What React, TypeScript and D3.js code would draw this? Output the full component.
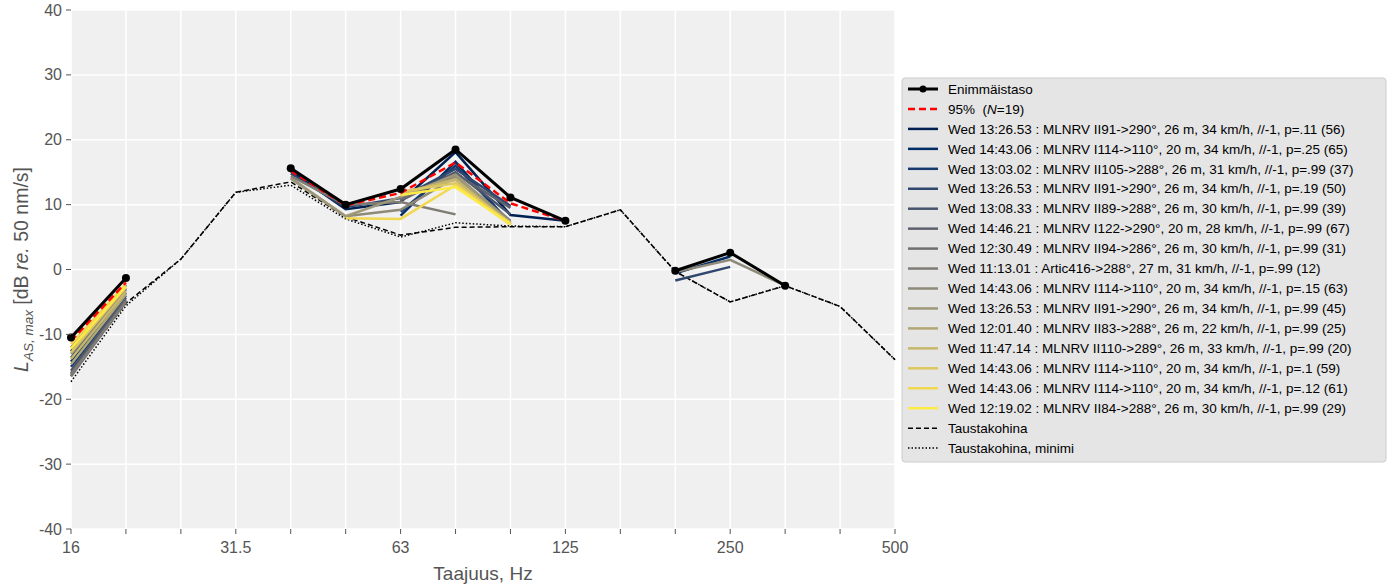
import React from "react";
import * as d3 from "d3";

// Third-octave band centre frequencies (Hz)
const bands = ["16", "20", "25", "31.5", "40", "50", "63", "80", "100", "125", "160", "200", "250", "315", "400", "500"];
const labelledBands = ["16", "31.5", "63", "125", "250", "500"];
const yTicks = [-40, -30, -20, -10, 0, 10, 20, 30, 40];

type V = number | null;
const _ = null;

// Maximum level envelope
const maxLevel: V[] = [-10.5, -1.3, _, _, 15.6, 10.0, 12.4, 18.5, 11.1, 7.5, _, -0.2, 2.6, -2.5, _, _];
// 95 % level
const p95Level: V[] = [-11.0, -2.0, _, _, 15.2, 9.9, 11.8, 16.5, 10.2, 7.5, _, _, _, _, _, _];
// Background noise
const background: V[] = [-16.3, -5.2, 1.6, 11.9, 13.5, 8.1, 5.3, 6.5, 6.6, 6.6, 9.2, -0.3, -5.0, -2.5, -5.7, -13.9];
const backgroundMin: V[] = [-17.3, -5.6, 1.6, 11.9, 13.0, 7.8, 5.0, 7.2, 6.7, 6.6, 9.2, -0.3, -5.0, -2.5, -5.7, -13.9];

// Individual passages
const passLabels = [
  "Wed 13:26.53 : MLNRV II91->290°, 26 m, 34 km/h, //-1, p=.11 (56)",
  "Wed 14:43.06 : MLNRV I114->110°, 20 m, 34 km/h, //-1, p=.25 (65)",
  "Wed 13:03.02 : MLNRV II105->288°, 26 m, 31 km/h, //-1, p=.99 (37)",
  "Wed 13:26.53 : MLNRV II91->290°, 26 m, 34 km/h, //-1, p=.19 (50)",
  "Wed 13:08.33 : MLNRV II89->288°, 26 m, 30 km/h, //-1, p=.99 (39)",
  "Wed 14:46.21 : MLNRV I122->290°, 20 m, 28 km/h, //-1, p=.99 (67)",
  "Wed 12:30.49 : MLNRV II94->286°, 26 m, 30 km/h, //-1, p=.99 (31)",
  "Wed 11:13.01 : Artic416->288°, 27 m, 31 km/h, //-1, p=.99 (12)",
  "Wed 14:43.06 : MLNRV I114->110°, 20 m, 34 km/h, //-1, p=.15 (63)",
  "Wed 13:26.53 : MLNRV II91->290°, 26 m, 34 km/h, //-1, p=.99 (45)",
  "Wed 12:01.40 : MLNRV II83->288°, 26 m, 22 km/h, //-1, p=.99 (25)",
  "Wed 11:47.14 : MLNRV II110->289°, 26 m, 33 km/h, //-1, p=.99 (20)",
  "Wed 14:43.06 : MLNRV I114->110°, 20 m, 34 km/h, //-1, p=.1 (59)",
  "Wed 14:43.06 : MLNRV I114->110°, 20 m, 34 km/h, //-1, p=.12 (61)",
  "Wed 12:19.02 : MLNRV II84->288°, 26 m, 30 km/h, //-1, p=.99 (29)",
];
const pass0: V[] = [-12.6, -2.4, _, _, 15.2, 9.3, 10.4, 18.1, 8.4, 7.5, _, _, _, _, _, _];
const pass1: V[] = [-14.2, -3.6, _, _, _, _, 8.3, 16.6, 7.0, _, _, -0.6, 2.0, _, _, _];
const pass2: V[] = [-15.0, -4.0, _, _, _, _, 8.9, 16.0, 7.2, _, _, _, _, _, _, _];
const pass3: V[] = [-13.6, -3.0, _, _, 14.8, 9.6, 11.0, 15.5, 9.8, _, _, -1.7, 0.4, _, _, _];
const pass4: V[] = [-15.6, -4.3, _, _, _, _, 10.8, 15.0, 8.5, _, _, _, _, _, _, _];
const pass5: V[] = [-16.0, -4.6, _, _, _, _, 10.6, 14.8, 9.5, _, _, _, _, _, _, _];
const pass6: V[] = [-16.5, -4.8, _, _, _, _, 10.9, 14.4, 7.5, _, _, _, _, _, _, _];
const pass7: V[] = [-16.2, -5.0, _, _, 14.4, 10.0, 10.4, 8.5, _, _, _, _, _, _, _, _];
const pass8: V[] = [-13.0, -3.2, _, _, 14.1, 8.2, 9.2, 14.2, 7.2, _, _, -0.4, 1.5, -2.5, _, _];
const pass9: V[] = [-12.0, -2.8, _, _, 14.0, 8.2, 11.2, 14.6, 7.3, _, _, _, _, _, _, _];
const pass10: V[] = [-14.6, -3.8, _, _, _, _, 11.5, 14.0, 7.0, _, _, _, _, _, _, _];
const pass11: V[] = [-13.8, -3.4, _, _, _, _, 11.8, 13.8, 6.9, _, _, _, _, _, _, _];
const pass12: V[] = [-12.8, -2.7, _, _, _, _, 12.0, 13.3, 7.2, _, _, _, _, _, _, _];
const pass13: V[] = [-11.5, -2.2, _, _, _, 7.9, 7.8, 13.0, 6.9, _, _, _, _, _, _, _];
const pass14: V[] = [-12.2, -2.6, _, _, _, _, 11.5, 12.7, 7.0, _, _, _, _, _, _, _];
const passValues = [pass0, pass1, pass2, pass3, pass4, pass5, pass6, pass7, pass8, pass9, pass10, pass11, pass12, pass13, pass14];

const W = 1391;
const H = 588;
const plot = { left: 71, right: 895, top: 10, bottom: 529 };
const FONT = "'Liberation Sans', Arial, sans-serif";

export default function App() {
  const x = d3.scaleLinear().domain([0, bands.length - 1]).range([plot.left, plot.right]);
  const y = d3.scaleLinear().domain([-40, 40]).range([plot.bottom, plot.top]);

  const line = d3
    .line<V>()
    .defined((d) => d !== null)
    .x((_d, i) => x(i))
    .y((d) => y(d as number));

  const colors = passValues.map((_s, i) => d3.interpolateCividis(i / (passValues.length - 1)));

  const legendX = 902;
  const legendY = 78;
  const rowH = 19.95;
  const firstRow = 89;
  const entries: { label: React.ReactNode; draw: (cy: number) => React.ReactNode }[] = [
    {
      label: "Enimmäistaso",
      draw: (cy) => (
        <g>
          <line x1={908} x2={938} y1={cy} y2={cy} stroke="#000" strokeWidth={3} />
          <circle cx={923} cy={cy} r={3.5} fill="#000" />
        </g>
      ),
    },
    {
      label: (
        <>
          95%{"\u00a0\u00a0"}(<tspan fontStyle="italic">N</tspan>=19)
        </>
      ),
      draw: (cy) => <line x1={908} x2={938} y1={cy} y2={cy} stroke="#ff0000" strokeWidth={2.5} strokeDasharray="7,4" />,
    },
    ...passLabels.map((lab, i) => ({
      label: lab,
      draw: (cy: number) => <line x1={908} x2={938} y1={cy} y2={cy} stroke={colors[i]} strokeWidth={2.5} />,
    })),
    {
      label: "Taustakohina",
      draw: (cy) => <line x1={908} x2={938} y1={cy} y2={cy} stroke="#000" strokeWidth={1.5} strokeDasharray="5,3" />,
    },
    {
      label: "Taustakohina, minimi",
      draw: (cy) => <line x1={908} x2={938} y1={cy} y2={cy} stroke="#000" strokeWidth={1.5} strokeDasharray="1.5,2" />,
    },
  ];

  return (
    <svg width={W} height={H} style={{ position: "absolute", left: 0, top: 0, fontFamily: FONT }}>
      <rect x={0} y={0} width={W} height={H} fill="#fff" />
      <rect x={plot.left} y={plot.top} width={plot.right - plot.left} height={plot.bottom - plot.top} fill="#f0f0f0" />
      {/* grid */}
      {bands.map((_b, i) => (
        <line key={"gx" + i} x1={x(i)} x2={x(i)} y1={plot.top} y2={plot.bottom} stroke="#fff" strokeWidth={1.5} />
      ))}
      {yTicks.map((t) => (
        <line key={"gy" + t} x1={plot.left} x2={plot.right} y1={y(t)} y2={y(t)} stroke="#fff" strokeWidth={1.5} />
      ))}

      {/* background noise */}
      <path d={line(backgroundMin) || ""} fill="none" stroke="#000" strokeWidth={1.5} strokeDasharray="1.5,2" />
      <path d={line(background) || ""} fill="none" stroke="#000" strokeWidth={1.5} strokeDasharray="5,3" />

      {/* passages */}
      {passValues.map((s, i) => (
        <path key={"p" + i} d={line(s) || ""} fill="none" stroke={colors[i]} strokeWidth={2.5} />
      ))}

      {/* 95 % */}
      <path d={line(p95Level) || ""} fill="none" stroke="#ff0000" strokeWidth={2.5} strokeDasharray="7,4" />

      {/* maximum */}
      <path d={line(maxLevel) || ""} fill="none" stroke="#000" strokeWidth={3} />
      {maxLevel.map((v, i) => (v === null ? null : <circle key={"m" + i} cx={x(i)} cy={y(v)} r={4} fill="#000" />))}

      {/* y axis */}
      {yTicks.map((t) => (
        <g key={"yt" + t}>
          <line x1={plot.left - 5} x2={plot.left} y1={y(t)} y2={y(t)} stroke="#555" strokeWidth={1} />
          <text x={plot.left - 9} y={y(t)} dy="0.35em" textAnchor="end" fontSize={16} fill="#555">
            {t}
          </text>
        </g>
      ))}
      <text transform={`translate(28, ${(plot.top + plot.bottom) / 2}) rotate(-90)`} textAnchor="middle" fontSize={19.5} fill="#555">
        <tspan fontStyle="italic">L</tspan>
        <tspan fontStyle="italic" fontSize={13.5} dy={5}>AS, max</tspan>
        <tspan dy={-5}> [dB </tspan>
        <tspan fontStyle="italic">re.</tspan>
        <tspan> 50 nm/s]</tspan>
      </text>

      {/* x axis */}
      {bands.map((b, i) => (
        <g key={"xt" + i}>
          <line x1={x(i)} x2={x(i)} y1={plot.bottom} y2={plot.bottom + 5} stroke="#555" strokeWidth={1} />
          {labelledBands.includes(b) ? (
            <text x={x(i)} y={plot.bottom + 24} textAnchor="middle" fontSize={16} fill="#555">
              {b}
            </text>
          ) : null}
        </g>
      ))}
      <text x={(plot.left + plot.right) / 2} y={580} textAnchor="middle" fontSize={19} fill="#555">
        Taajuus, Hz
      </text>

      {/* legend */}
      <rect x={legendX} y={legendY} width={484} height={384} rx={3} fill="#e5e5e5" stroke="#cccccc" strokeWidth={1} />
      {entries.map((e, i) => {
        const cy = firstRow + i * rowH;
        return (
          <g key={"lg" + i}>
            {e.draw(cy)}
            <text x={948} y={cy} dy="0.35em" fontSize={13.5} fill="#000">
              {e.label}
            </text>
          </g>
        );
      })}
    </svg>
  );
}
